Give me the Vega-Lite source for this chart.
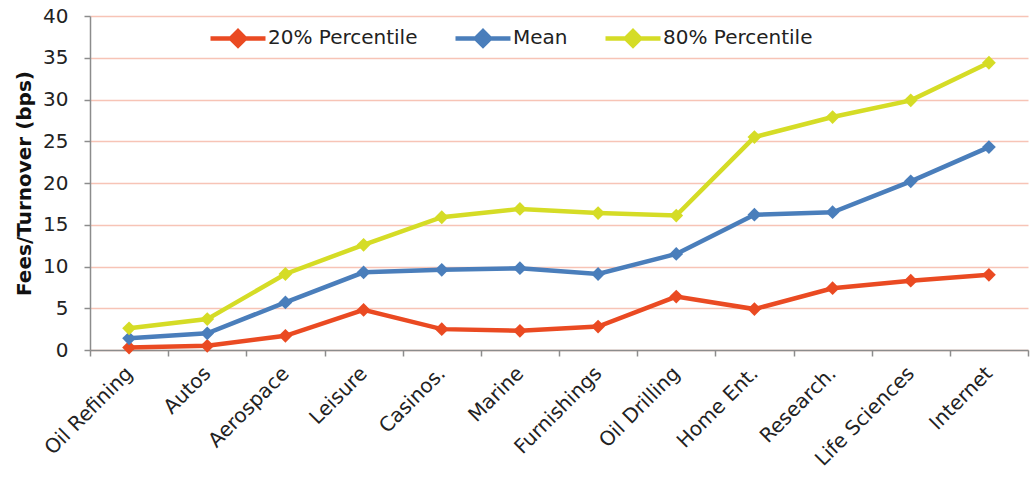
{
  "$schema": "https://vega.github.io/schema/vega-lite/v6.json",
  "width": 938,
  "height": 334,
  "autosize": "none",
  "padding": {"left": 90, "top": 16, "right": 4, "bottom": 128},
  "background": "white",
  "config": {
    "font": "DejaVu Sans",
    "view": {"stroke": null},
    "axis": {
      "labelFont": "DejaVu Sans",
      "labelColor": "#222222",
      "labelFontSize": 19,
      "domainColor": "#8c8c8c",
      "domainWidth": 1.5,
      "tickColor": "#8c8c8c",
      "tickWidth": 1.5,
      "tickSize": 6
    }
  },
  "data": {
    "values": [
      {"industry": "Oil Refining", "series": "20% Percentile", "bps": 0.3},
      {"industry": "Autos", "series": "20% Percentile", "bps": 0.5},
      {"industry": "Aerospace", "series": "20% Percentile", "bps": 1.7},
      {"industry": "Leisure", "series": "20% Percentile", "bps": 4.8},
      {"industry": "Casinos.", "series": "20% Percentile", "bps": 2.5},
      {"industry": "Marine", "series": "20% Percentile", "bps": 2.3},
      {"industry": "Furnishings", "series": "20% Percentile", "bps": 2.8},
      {"industry": "Oil Drilling", "series": "20% Percentile", "bps": 6.4},
      {"industry": "Home Ent.", "series": "20% Percentile", "bps": 4.9},
      {"industry": "Research.", "series": "20% Percentile", "bps": 7.4},
      {"industry": "Life Sciences", "series": "20% Percentile", "bps": 8.3},
      {"industry": "Internet", "series": "20% Percentile", "bps": 9.0},
      {"industry": "Oil Refining", "series": "Mean", "bps": 1.4},
      {"industry": "Autos", "series": "Mean", "bps": 2.0},
      {"industry": "Aerospace", "series": "Mean", "bps": 5.7},
      {"industry": "Leisure", "series": "Mean", "bps": 9.3},
      {"industry": "Casinos.", "series": "Mean", "bps": 9.6},
      {"industry": "Marine", "series": "Mean", "bps": 9.8},
      {"industry": "Furnishings", "series": "Mean", "bps": 9.1},
      {"industry": "Oil Drilling", "series": "Mean", "bps": 11.5},
      {"industry": "Home Ent.", "series": "Mean", "bps": 16.2},
      {"industry": "Research.", "series": "Mean", "bps": 16.5},
      {"industry": "Life Sciences", "series": "Mean", "bps": 20.2},
      {"industry": "Internet", "series": "Mean", "bps": 24.3},
      {"industry": "Oil Refining", "series": "80% Percentile", "bps": 2.6},
      {"industry": "Autos", "series": "80% Percentile", "bps": 3.7},
      {"industry": "Aerospace", "series": "80% Percentile", "bps": 9.1},
      {"industry": "Leisure", "series": "80% Percentile", "bps": 12.6},
      {"industry": "Casinos.", "series": "80% Percentile", "bps": 15.9},
      {"industry": "Marine", "series": "80% Percentile", "bps": 16.9},
      {"industry": "Furnishings", "series": "80% Percentile", "bps": 16.4},
      {"industry": "Oil Drilling", "series": "80% Percentile", "bps": 16.1},
      {"industry": "Home Ent.", "series": "80% Percentile", "bps": 25.5},
      {"industry": "Research.", "series": "80% Percentile", "bps": 27.9},
      {"industry": "Life Sciences", "series": "80% Percentile", "bps": 29.9},
      {"industry": "Internet", "series": "80% Percentile", "bps": 34.4}
    ]
  },
  "mark": {
    "type": "line",
    "strokeWidth": 4.5,
    "point": {"shape": "diamond", "size": 190, "filled": true}
  },
  "encoding": {
    "x": {
      "field": "industry",
      "type": "nominal",
      "sort": null,
      "bandPosition": 0.5,
      "scale": {"type": "band", "paddingInner": 0, "paddingOuter": 0},
      "axis": {
        "title": null,
        "labelAngle": -45,
        "labelAlign": "right",
        "labelBaseline": "middle",
        "labelFontSize": 20,
        "labelPadding": 14,
        "tickBand": "extent",
        "grid": false
      }
    },
    "y": {
      "field": "bps",
      "type": "quantitative",
      "scale": {"domain": [0, 40], "nice": false},
      "axis": {
        "title": "Fees/Turnover (bps)",
        "titleFont": "DejaVu Sans",
        "titleFontSize": 20,
        "titleFontWeight": "bold",
        "titleColor": "#111111",
        "titlePadding": 8,
        "values": [0, 5, 10, 15, 20, 25, 30, 35, 40],
        "grid": true,
        "gridColor": "#f7c4b6",
        "gridWidth": 1.5,
        "labelFontSize": 20,
        "labelPadding": 16
      }
    },
    "color": {
      "field": "series",
      "type": "nominal",
      "sort": ["20% Percentile", "Mean", "80% Percentile"],
      "scale": {
        "domain": ["20% Percentile", "Mean", "80% Percentile"],
        "range": ["#ea4a22", "#4a7ebb", "#d5dc26"]
      },
      "legend": {
        "title": null,
        "orient": "none",
        "direction": "horizontal",
        "legendX": 118,
        "legendY": -8,
        "symbolType": "M-1,0L1,0M-0.26,0L0,-0.26L0.26,0L0,0.26Z",
        "symbolSize": 3025,
        "symbolStrokeWidth": 4.5,
        "labelFont": "DejaVu Sans",
        "labelFontSize": 20,
        "labelColor": "#222222",
        "labelOffset": 0,
        "columnPadding": 28,
        "encode": {
          "symbols": {"update": {"fill": {"scale": "color", "field": "value"}}}
        }
      }
    }
  }
}
